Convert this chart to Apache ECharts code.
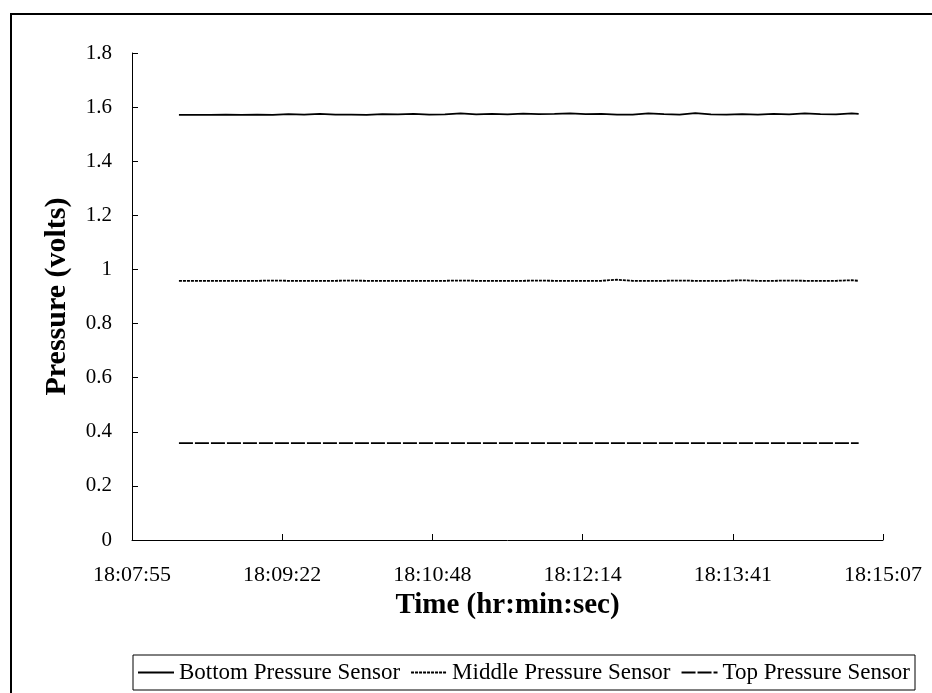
<!DOCTYPE html>
<html>
<head>
<meta charset="utf-8">
<script src="https://cdn.jsdelivr.net/npm/echarts@6/dist/echarts.min.js"></script>
<style>
  html, body { margin: 0; padding: 0; background: #fff; }
  #main { width: 932px; height: 693px; }
</style>
</head>
<body>
<div id="main"></div>
<script>
// seconds elapsed since the first axis tick (18:07:55)
var elapsed = [27, 36, 45, 54, 63, 72, 81, 90, 99, 108, 117, 126, 135, 144, 153,
  162, 171, 180, 189, 198, 207, 216, 225, 234, 243, 252, 261, 270, 279, 288,
  297, 306, 315, 324, 333, 342, 351, 360, 369, 378, 387, 396, 405, 414, 418];

var bottomSensor = [1.571, 1.571, 1.571, 1.572, 1.571, 1.572, 1.571, 1.574, 1.572, 1.575,
  1.572, 1.572, 1.571, 1.574, 1.573, 1.575, 1.572, 1.573, 1.577, 1.573,
  1.575, 1.573, 1.576, 1.574, 1.575, 1.577, 1.574, 1.575, 1.572, 1.572,
  1.577, 1.574, 1.572, 1.578, 1.573, 1.572, 1.574, 1.572, 1.575, 1.573,
  1.577, 1.574, 1.573, 1.577, 1.575];

var middleSensor = [0.958, 0.958, 0.958, 0.958, 0.958, 0.958, 0.959, 0.958, 0.958, 0.958,
  0.958, 0.959, 0.958, 0.958, 0.958, 0.958, 0.958, 0.958, 0.959, 0.958,
  0.958, 0.958, 0.958, 0.959, 0.958, 0.958, 0.958, 0.958, 0.962, 0.958,
  0.958, 0.958, 0.959, 0.958, 0.958, 0.958, 0.960, 0.958, 0.958, 0.959,
  0.958, 0.958, 0.958, 0.960, 0.958];

var topSensor = [0.358, 0.358, 0.358, 0.358, 0.358, 0.358, 0.358, 0.358, 0.358, 0.358,
  0.358, 0.358, 0.358, 0.358, 0.358, 0.358, 0.358, 0.358, 0.358, 0.358,
  0.358, 0.358, 0.358, 0.358, 0.358, 0.358, 0.358, 0.358, 0.358, 0.358,
  0.358, 0.358, 0.358, 0.358, 0.358, 0.358, 0.358, 0.358, 0.358, 0.358,
  0.358, 0.358, 0.358, 0.358, 0.358];

var tickLabels = ['18:07:55', '18:09:22', '18:10:48', '18:12:14', '18:13:41', '18:15:07'];
var tickStep = 86.4;

function pairs(vals) {
  return vals.map(function (v, i) { return [elapsed[i], v]; });
}

var font = 'Liberation Serif';
var chart = echarts.init(document.getElementById('main'));

chart.setOption({
  animation: false,
  backgroundColor: '#fff',
  textStyle: { fontFamily: font, color: '#000' },
  graphic: [{
    type: 'rect',
    shape: { x: 11, y: 14, width: 940, height: 700 },
    style: { fill: 'none', stroke: '#000', lineWidth: 2 },
    silent: true
  }],
  grid: { left: 132, right: 49, top: 53, bottom: 153 },
  legend: {
    left: 133,
    top: 655,
    padding: [6, 5, 6, 4],
    borderColor: '#000',
    borderWidth: 1,
    itemWidth: 36,
    itemHeight: 22,
    itemGap: 10,
    itemStyle: { opacity: 0 },
    textStyle: { fontFamily: font, fontSize: 23, color: '#000', padding: [0, 0, 0, 0] },
    data: ['Bottom Pressure Sensor', 'Middle Pressure Sensor', 'Top Pressure Sensor']
  },
  xAxis: {
    type: 'value',
    min: 0,
    max: 432,
    interval: tickStep,
    name: 'Time (hr:min:sec)',
    nameLocation: 'middle',
    nameGap: 49,
    nameTextStyle: { fontFamily: font, fontSize: 29, fontWeight: 'bold', color: '#000' },
    axisLine: { lineStyle: { color: '#000', width: 1 } },
    axisTick: { inside: true, length: 6, lineStyle: { color: '#000' } },
    axisLabel: {
      fontFamily: font, fontSize: 22, color: '#000', margin: 24,
      formatter: function (v) { return tickLabels[Math.round(v / tickStep)]; }
    },
    splitLine: { show: false }
  },
  yAxis: {
    type: 'value',
    min: 0,
    max: 1.8,
    interval: 0.2,
    name: 'Pressure (volts)',
    nameLocation: 'middle',
    nameRotate: 90,
    nameGap: 60,
    nameTextStyle: { fontFamily: font, fontSize: 30, fontWeight: 'bold', color: '#000' },
    axisLine: { show: true, lineStyle: { color: '#000', width: 1 } },
    axisTick: { show: true, inside: true, length: 6, lineStyle: { color: '#000' } },
    axisLabel: { fontFamily: font, fontSize: 21, color: '#000', margin: 20 },
    splitLine: { show: false }
  },
  series: [{
    name: 'Bottom Pressure Sensor',
    type: 'line',
    symbol: 'none',
    data: pairs(bottomSensor),
    lineStyle: { color: '#000', width: 1.8, type: 'solid' },
    itemStyle: { color: '#000' }
  }, {
    name: 'Middle Pressure Sensor',
    type: 'line',
    symbol: 'none',
    data: pairs(middleSensor),
    lineStyle: { color: '#000', width: 1.8, type: [3, 1] },
    itemStyle: { color: '#000' }
  }, {
    name: 'Top Pressure Sensor',
    type: 'line',
    symbol: 'none',
    data: pairs(topSensor),
    lineStyle: { color: '#000', width: 1.8, type: [14, 2] },
    itemStyle: { color: '#000' }
  }]
});
</script>
</body>
</html>
